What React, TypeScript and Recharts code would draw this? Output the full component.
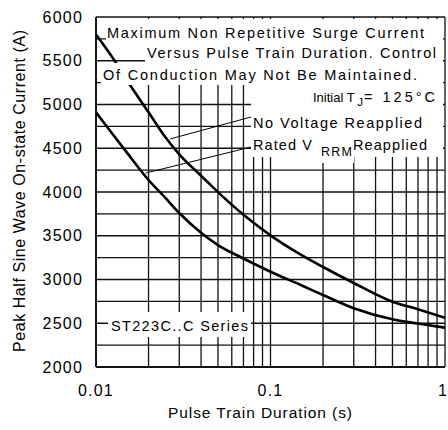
import { LineChart, Line, XAxis, YAxis, CartesianGrid, ReferenceLine, Label } from 'recharts'

// pulse train duration (s) and the two surge current curves (A)
const durations = [0.01, 0.0125, 0.015, 0.02, 0.025, 0.03, 0.04, 0.05, 0.07, 0.1, 0.15, 0.2, 0.3, 0.5, 0.7, 1]
const noVoltage = [5800, 5530, 5280, 4912, 4625, 4431, 4186, 3999, 3740, 3505, 3281, 3143, 2960, 2746, 2660, 2563]
const ratedVrrm = [4910, 4657, 4453, 4137, 3932, 3760, 3534, 3393, 3240, 3089, 2935, 2823, 2671, 2545, 2497, 2449]

const xTicks = [0.01, 0.02, 0.03, 0.04, 0.05, 0.06, 0.07, 0.08, 0.09, 0.1, 0.2, 0.3, 0.4, 0.5, 0.6, 0.7, 0.8, 0.9, 1]
const xLabels = [0.01, 0.1, 1]
const yTicks = [2000, 2250, 2500, 2750, 3000, 3250, 3500, 3750, 4000, 4250, 4500, 4750, 5000, 5250, 5500, 5750, 6000]
const yLabels = [2000, 2500, 3000, 3500, 4000, 4500, 5000, 5500, 6000]

// leader lines from the curves to their captions
const noVoltageLeader = [{ x: 0.0266, y: 4606 }, { x: 0.0773, y: 4857 }]
const ratedLeader = [{ x: 0.0193, y: 4217 }, { x: 0.0773, y: 4514 }]

const upperData = durations.map((t, i) => ({ t, v: noVoltage[i] }))
const lowerData = durations.map((t, i) => ({ t, v: ratedVrrm[i] }))

const font = '"Liberation Sans", Arial, sans-serif'

function XTick({ x, y, payload }: any) {
  const v = payload.value
  if (!xLabels.includes(v)) return null
  const last = v === xLabels[xLabels.length - 1]
  return (
    <text x={last ? 447 : x} y={y} dy={11.5} textAnchor={last ? 'end' : 'middle'}
      style={{ fontFamily: font, fontSize: 16, fill: '#000', letterSpacing: last ? 0 : 1.2 }}>
      {String(v)}
    </text>
  )
}

function Notes() {
  const txt = { fontFamily: font, fontSize: 14.5, fill: '#000' }
  return (
    <svg width={448} height={430} style={{ position: 'absolute', left: 0, top: 0, pointerEvents: 'none' }}>
      <g fill="#fff">
        <rect x={106} y={19} width={337} height={27} />
        <rect x={145} y={46} width={298} height={17} />
        <rect x={101} y={63} width={342} height={22} />
        <rect x={251} y={85} width={192} height={72} />
        <rect x={318} y={157} width={36} height={6} />
        <rect x={108} y={312} width={143} height={25} />
      </g>
      <g style={txt}>
        <text x={107} y={38} textLength={317} lengthAdjust="spacing">Maximum Non Repetitive Surge Current</text>
        <text x={147} y={58} textLength={289} lengthAdjust="spacing">Versus Pulse Train Duration. Control</text>
        <text x={103} y={80} textLength={314} lengthAdjust="spacing">Of Conduction May Not Be Maintained.</text>
        <text x={313} y={102} fontSize={13}>Initial T</text>
        <text x={357.5} y={106} fontSize={11}>J</text>
        <text x={364} y={102} textLength={71} lengthAdjust="spacing">= 125°C</text>
        <text x={253} y={128} textLength={169} lengthAdjust="spacing">No Voltage Reapplied</text>
        <text x={253} y={150} textLength={59} lengthAdjust="spacing">Rated V</text>
        <text x={321} y={156} fontSize={12.5} textLength={31} lengthAdjust="spacing">RRM</text>
        <text x={353} y={150} textLength={74} lengthAdjust="spacing">Reapplied</text>
        <text x={111} y={331} textLength={137} lengthAdjust="spacing">ST223C..C Series</text>
      </g>
    </svg>
  )
}

export default function App() {
  const tick = { fontFamily: font, fontSize: 16, fill: '#000', letterSpacing: 1.2 }
  return (
    <div style={{ position: 'absolute', left: 0, top: 0, width: 448, height: 430, background: '#fff' }}>
      <LineChart width={448} height={430} margin={{ top: 17, right: 3, bottom: 0, left: 0 }}>
        <CartesianGrid stroke="#111" strokeWidth={1.3} />
        <XAxis
          dataKey="t"
          type="number"
          scale="log"
          domain={[0.01, 1]}
          allowDataOverflow
          ticks={xTicks}
          interval={0}
          tick={<XTick />}
          tickSize={0}
          tickMargin={17}
          height={63}
          axisLine={{ stroke: '#000', strokeWidth: 1.5 }}
        >
          <Label
            content={() => (
              <text x={260} y={418} textAnchor="middle" textLength={184} lengthAdjust="spacing"
                style={{ fontFamily: font, fontSize: 15.5, fill: '#000' }}>
                Pulse Train Duration (s)
              </text>
            )}
          />
        </XAxis>
        <YAxis
          type="number"
          domain={[2000, 6000]}
          allowDataOverflow
          ticks={yTicks}
          interval={0}
          tickFormatter={(v: number) => (yLabels.includes(v) ? String(v) : '')}
          tick={tick}
          tickSize={0}
          tickMargin={13}
          width={96}
          axisLine={{ stroke: '#000', strokeWidth: 1.5 }}
        >
          <Label
            content={() => (
              <text transform="translate(25,191) rotate(-90)" textAnchor="middle" textLength={322} lengthAdjust="spacing"
                style={{ fontFamily: font, fontSize: 16, fill: '#000' }}>
                Peak Half Sine Wave On-state Current (A)
              </text>
            )}
          />
        </YAxis>
        <ReferenceLine segment={noVoltageLeader} stroke="#000" strokeWidth={1} ifOverflow="visible" />
        <ReferenceLine segment={ratedLeader} stroke="#000" strokeWidth={1} ifOverflow="visible" />
        <Line data={upperData} dataKey="v" type="monotone" stroke="#000" strokeWidth={2.6} dot={false} isAnimationActive={false} />
        <Line data={lowerData} dataKey="v" type="monotone" stroke="#000" strokeWidth={2.6} dot={false} isAnimationActive={false} />
      </LineChart>
      <Notes />
    </div>
  )
}
